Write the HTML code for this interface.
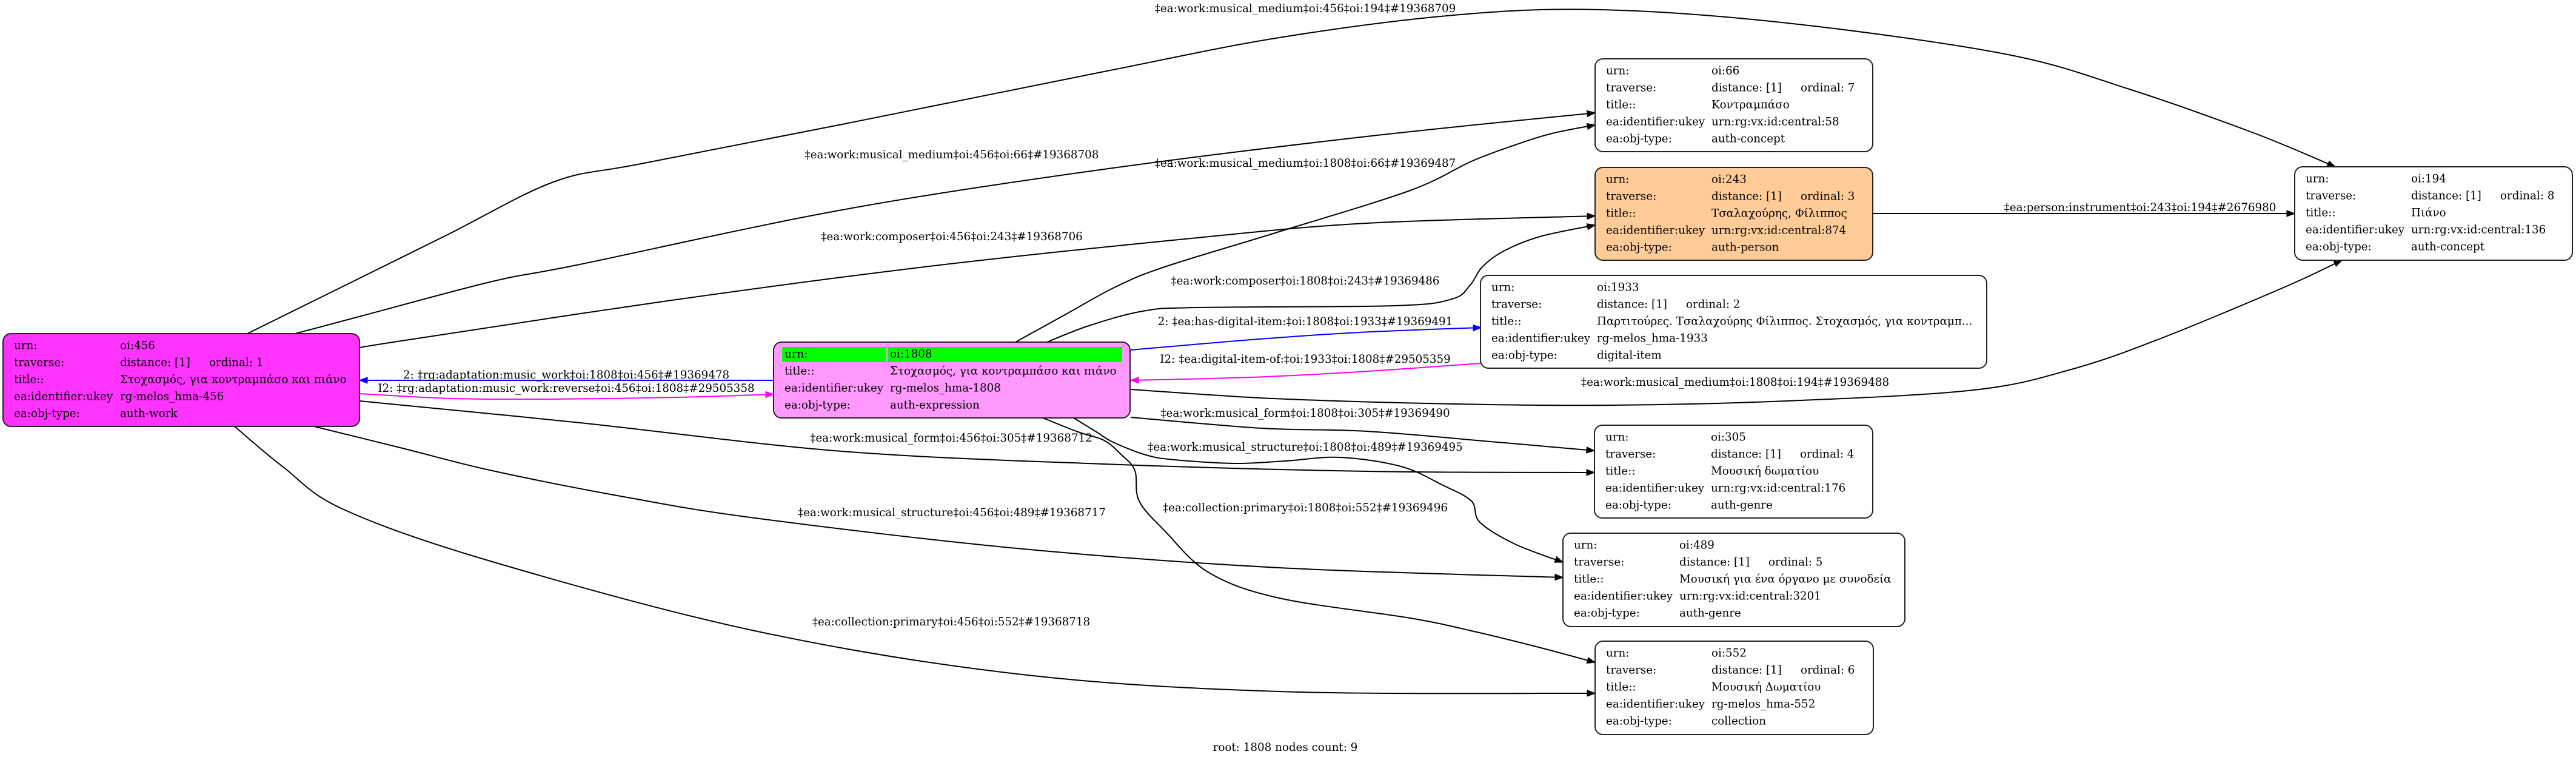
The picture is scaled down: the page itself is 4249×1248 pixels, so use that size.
<!DOCTYPE html>
<html>
<head>
<meta charset="utf-8">
<style>
html,body{margin:0;padding:0;background:#fff;}
svg{display:block;}
text{font-family:"DejaVu Serif","Liberation Serif","Noto Serif CJK SC",serif;font-size:18.3px;fill:#000;}
.c{text-anchor:middle;}
.e{fill:none;stroke-width:2;}
.k{stroke:#000;}
.b{stroke:#0000ff;}
.m{stroke:#ff00ff;}
.n{stroke:#222;stroke-width:2;}
</style>
</head>
<body>
<svg width="4249" height="1248" viewBox="0 0 4249 1248" xmlns="http://www.w3.org/2000/svg">
<defs>
<marker id="ak" viewBox="0 0 14 12" markerWidth="14" markerHeight="12" refX="13.5" refY="6" orient="auto" markerUnits="userSpaceOnUse"><path d="M0,0.8 L14,6 L0,11.2 Z" fill="#000" stroke="#000" stroke-width="1"/></marker>
<marker id="ab" viewBox="0 0 14 12" markerWidth="14" markerHeight="12" refX="13.5" refY="6" orient="auto" markerUnits="userSpaceOnUse"><path d="M0,0.8 L14,6 L0,11.2 Z" fill="#0000ff" stroke="#0000ff" stroke-width="1"/></marker>
<marker id="am" viewBox="0 0 14 12" markerWidth="14" markerHeight="12" refX="13.5" refY="6" orient="auto" markerUnits="userSpaceOnUse"><path d="M0,0.8 L14,6 L0,11.2 Z" fill="#ff00ff" stroke="#ff00ff" stroke-width="1"/></marker>
</defs>
<rect x="0" y="0" width="4249" height="1248" fill="#fff"/>

<!-- edges -->
<polyline class="e k" marker-end="url(#ak)" points="408,550 560,475 740,386 913,300 1057,270 1389,205 1821,118 2110,62 2398,25 2640,16 2948,38 3307,89 3512,147 3717,219 3852,275"/>
<polyline class="e k" marker-end="url(#ak)" points="487,550 596,521 812,464 956,436 1389,346 1821,279 2254,225 2631,186"/>
<polyline class="e k" marker-end="url(#ak)" points="593,573 675,560 1101,496 1533,439 1965,393 2254,368 2631,356"/>
<polyline class="e k" marker-end="url(#ak)" points="1675,564 1760,517 1840,473 1921,440 2110,382 2326,314 2427,266 2499,239 2560,220 2631,206"/>
<polyline class="e k" marker-end="url(#ak)" points="1727,564 1796,537 1885,513 1974,507 2300,504 2395,493 2425,470 2445,440 2480,414 2540,390 2631,371"/>
<polyline class="e b" marker-end="url(#ab)" points="1865,577 2064,560 2242,548 2443,540"/>
<polyline class="e m" marker-end="url(#am)" points="2442,599 2242,613 2064,622 1865,627"/>
<polyline class="e b" marker-end="url(#ab)" points="1276,627 593,627"/>
<polyline class="e m" marker-end="url(#am)" points="593,649 746,657 912,658 1119,655 1276,650"/>
<polyline class="e k" marker-end="url(#ak)" points="1865,642 2100,657 2400,666 2660,668 2948,661 3256,643 3420,608 3564,558 3769,473 3863,429"/>
<polyline class="e k" marker-end="url(#ak)" points="3089,352 3785,352"/>
<polyline class="e k" marker-end="url(#ak)" points="1865,688 2081,706 2254,711 2470,729 2630,743"/>
<polyline class="e k" marker-end="url(#ak)" points="593,661 957,697 1389,744 1821,765 2254,777 2630,779"/>
<polyline class="e k" marker-end="url(#ak)" points="1771,689 1810,713 1836,729 1890,750 1937,758 2038,764 2120,760 2210,754 2311,769 2380,800 2427,826 2441,861 2499,897 2578,927"/>
<polyline class="e k" marker-end="url(#ak)" points="1720,689 1778,712 1821,726 1850,750 1872,776 1879,826 1922,876 1994,944 2110,986 2326,1019 2427,1040 2530,1065 2631,1092"/>
<polyline class="e k" marker-end="url(#ak)" points="518,703 668,740 812,776 1029,819 1245,854 1677,904 2110,936 2578,952"/>
<polyline class="e k" marker-end="url(#ak)" points="387,703 466,769 567,840 812,926 1245,1040 1677,1111 2110,1140 2631,1143"/>

<!-- edge labels -->
<text class="c" x="2153" y="20">‡ea:work:musical_medium‡oi:456‡oi:194‡#19368709</text>
<text class="c" x="1570" y="261">‡ea:work:musical_medium‡oi:456‡oi:66‡#19368708</text>
<text class="c" x="2153" y="275">‡ea:work:musical_medium‡oi:1808‡oi:66‡#19369487</text>
<text class="c" x="1570" y="396">‡ea:work:composer‡oi:456‡oi:243‡#19368706</text>
<text class="c" x="2153" y="469">‡ea:work:composer‡oi:1808‡oi:243‡#19369486</text>
<text class="c" x="2153" y="536">2: ‡ea:has-digital-item:‡oi:1808‡oi:1933‡#19369491</text>
<text class="c" x="2153" y="598">I2: ‡ea:digital-item-of:‡oi:1933‡oi:1808‡#29505359</text>
<text class="c" x="934" y="624">2: ‡rg:adaptation:music_work‡oi:1808‡oi:456‡#19369478</text>
<text class="c" x="934" y="646">I2: ‡rg:adaptation:music_work:reverse‡oi:456‡oi:1808‡#29505358</text>
<text class="c" x="2862" y="636">‡ea:work:musical_medium‡oi:1808‡oi:194‡#19369488</text>
<text class="c" x="2153" y="687">‡ea:work:musical_form‡oi:1808‡oi:305‡#19369490</text>
<text class="c" x="1569" y="728">‡ea:work:musical_form‡oi:456‡oi:305‡#19368712</text>
<text class="c" x="2153" y="743">‡ea:work:musical_structure‡oi:1808‡oi:489‡#19369495</text>
<text class="c" x="2153" y="843">‡ea:collection:primary‡oi:1808‡oi:552‡#19369496</text>
<text class="c" x="1570" y="851">‡ea:work:musical_structure‡oi:456‡oi:489‡#19368717</text>
<text class="c" x="1569" y="1031">‡ea:collection:primary‡oi:456‡oi:552‡#19368718</text>
<text class="c" x="3530" y="348">‡ea:person:instrument‡oi:243‡oi:194‡#2676980</text>
<text class="c" x="2120" y="1238">root: 1808 nodes count: 9</text>

<!-- node 456 -->
<rect class="n" x="5" y="550" width="588" height="153" rx="13" fill="#ff33ff"/>
<text x="23" y="575.5">urn:</text><text x="198" y="575.5">oi:456</text>
<text x="23" y="603.5">traverse:</text><text x="198" y="603.5">distance: [1]</text><text x="345" y="603.5">ordinal: 1</text>
<text x="23" y="631.5">title::</text><text x="198" y="631.5">Στοχασμός, για κοντραμπάσο και πιάνο</text>
<text x="23" y="659.5">ea:identifier:ukey</text><text x="198" y="659.5">rg-melos_hma-456</text>
<text x="23" y="687.5">ea:obj-type:</text><text x="198" y="687.5">auth-work</text>

<!-- node 1808 -->
<rect class="n" x="1276" y="564" width="588" height="125" rx="13" fill="#ff99ff"/>
<rect x="1290" y="572" width="172" height="25" fill="#00ff00"/>
<rect x="1464" y="572" width="387" height="25" fill="#00ff00"/>
<text x="1294" y="589.5">urn:</text><text x="1468" y="589.5">oi:1808</text>
<text x="1294" y="617.5">title::</text><text x="1468" y="617.5">Στοχασμός, για κοντραμπάσο και πιάνο</text>
<text x="1294" y="645.5">ea:identifier:ukey</text><text x="1468" y="645.5">rg-melos_hma-1808</text>
<text x="1294" y="673.5">ea:obj-type:</text><text x="1468" y="673.5">auth-expression</text>

<!-- node 66 -->
<rect class="n" x="2631" y="97" width="458" height="153" rx="13" fill="#fff"/>
<text x="2649" y="122.5">urn:</text><text x="2823" y="122.5">oi:66</text>
<text x="2649" y="150.5">traverse:</text><text x="2823" y="150.5">distance: [1]</text><text x="2970" y="150.5">ordinal: 7</text>
<text x="2649" y="178.5">title::</text><text x="2823" y="178.5">Κοντραμπάσο</text>
<text x="2649" y="206.5">ea:identifier:ukey</text><text x="2823" y="206.5">urn:rg:vx:id:central:58</text>
<text x="2649" y="234.5">ea:obj-type:</text><text x="2823" y="234.5">auth-concept</text>

<!-- node 243 -->
<rect class="n" x="2631" y="276" width="458" height="153" rx="13" fill="#ffcc99"/>
<text x="2649" y="301.5">urn:</text><text x="2823" y="301.5">oi:243</text>
<text x="2649" y="329.5">traverse:</text><text x="2823" y="329.5">distance: [1]</text><text x="2970" y="329.5">ordinal: 3</text>
<text x="2649" y="357.5">title::</text><text x="2823" y="357.5">Τσαλαχούρης, Φίλιππος</text>
<text x="2649" y="385.5">ea:identifier:ukey</text><text x="2823" y="385.5">urn:rg:vx:id:central:874</text>
<text x="2649" y="413.5">ea:obj-type:</text><text x="2823" y="413.5">auth-person</text>

<!-- node 194 -->
<rect class="n" x="3785" y="275" width="458" height="154" rx="13" fill="#fff"/>
<text x="3803" y="300.5">urn:</text><text x="3977" y="300.5">oi:194</text>
<text x="3803" y="328.5">traverse:</text><text x="3977" y="328.5">distance: [1]</text><text x="4124" y="328.5">ordinal: 8</text>
<text x="3803" y="356.5">title::</text><text x="3977" y="356.5">Πιάνο</text>
<text x="3803" y="384.5">ea:identifier:ukey</text><text x="3977" y="384.5">urn:rg:vx:id:central:136</text>
<text x="3803" y="412.5">ea:obj-type:</text><text x="3977" y="412.5">auth-concept</text>

<!-- node 1933 -->
<rect class="n" x="2442" y="454" width="835" height="153" rx="13" fill="#fff"/>
<text x="2460" y="479.5">urn:</text><text x="2634" y="479.5">oi:1933</text>
<text x="2460" y="507.5">traverse:</text><text x="2634" y="507.5">distance: [1]</text><text x="2781" y="507.5">ordinal: 2</text>
<text x="2460" y="535.5">title::</text><text x="2634" y="535.5">Παρτιτούρες. Τσαλαχούρης Φίλιππος. Στοχασμός, για κοντραμπ...</text>
<text x="2460" y="563.5">ea:identifier:ukey</text><text x="2634" y="563.5">rg-melos_hma-1933</text>
<text x="2460" y="591.5">ea:obj-type:</text><text x="2634" y="591.5">digital-item</text>

<!-- node 305 -->
<rect class="n" x="2630" y="701" width="459" height="153" rx="13" fill="#fff"/>
<text x="2648" y="726.5">urn:</text><text x="2822" y="726.5">oi:305</text>
<text x="2648" y="754.5">traverse:</text><text x="2822" y="754.5">distance: [1]</text><text x="2969" y="754.5">ordinal: 4</text>
<text x="2648" y="782.5">title::</text><text x="2822" y="782.5">Μουσική δωματίου</text>
<text x="2648" y="810.5">ea:identifier:ukey</text><text x="2822" y="810.5">urn:rg:vx:id:central:176</text>
<text x="2648" y="838.5">ea:obj-type:</text><text x="2822" y="838.5">auth-genre</text>

<!-- node 489 -->
<rect class="n" x="2578" y="879" width="564" height="154" rx="13" fill="#fff"/>
<text x="2596" y="904.5">urn:</text><text x="2770" y="904.5">oi:489</text>
<text x="2596" y="932.5">traverse:</text><text x="2770" y="932.5">distance: [1]</text><text x="2917" y="932.5">ordinal: 5</text>
<text x="2596" y="960.5">title::</text><text x="2770" y="960.5">Μουσική για ένα όργανο με συνοδεία</text>
<text x="2596" y="988.5">ea:identifier:ukey</text><text x="2770" y="988.5">urn:rg:vx:id:central:3201</text>
<text x="2596" y="1016.5">ea:obj-type:</text><text x="2770" y="1016.5">auth-genre</text>

<!-- node 552 -->
<rect class="n" x="2631" y="1057" width="459" height="154" rx="13" fill="#fff"/>
<text x="2649" y="1082.5">urn:</text><text x="2823" y="1082.5">oi:552</text>
<text x="2649" y="1110.5">traverse:</text><text x="2823" y="1110.5">distance: [1]</text><text x="2970" y="1110.5">ordinal: 6</text>
<text x="2649" y="1138.5">title::</text><text x="2823" y="1138.5">Μουσική Δωματίου</text>
<text x="2649" y="1166.5">ea:identifier:ukey</text><text x="2823" y="1166.5">rg-melos_hma-552</text>
<text x="2649" y="1194.5">ea:obj-type:</text><text x="2823" y="1194.5">collection</text>
</svg>
<script>
(function(){
var ns='http://www.w3.org/2000/svg';
var list=document.querySelectorAll('polyline.e');
for(var k=0;k<list.length;k++){
  var pl=list[k];
  var pts=pl.getAttribute('points').trim().split(/\s+/).map(function(s){var a=s.split(',');return [+a[0],+a[1]];});
  if(pts.length<3) continue;
  var d='M'+pts[0][0]+','+pts[0][1];
  for(var i=0;i<pts.length-1;i++){
    var p0=pts[i-1]||pts[i],p1=pts[i],p2=pts[i+1],p3=pts[i+2]||pts[i+1];
    var c1x=p1[0]+(p2[0]-p0[0])/6,c1y=p1[1]+(p2[1]-p0[1])/6;
    var c2x=p2[0]-(p3[0]-p1[0])/6,c2y=p2[1]-(p3[1]-p1[1])/6;
    d+=' C'+c1x.toFixed(1)+','+c1y.toFixed(1)+' '+c2x.toFixed(1)+','+c2y.toFixed(1)+' '+p2[0]+','+p2[1];
  }
  var p=document.createElementNS(ns,'path');
  p.setAttribute('class',pl.getAttribute('class'));
  p.setAttribute('marker-end',pl.getAttribute('marker-end'));
  p.setAttribute('d',d);
  pl.parentNode.replaceChild(p,pl);
}
})();
</script>
</body>
</html>
